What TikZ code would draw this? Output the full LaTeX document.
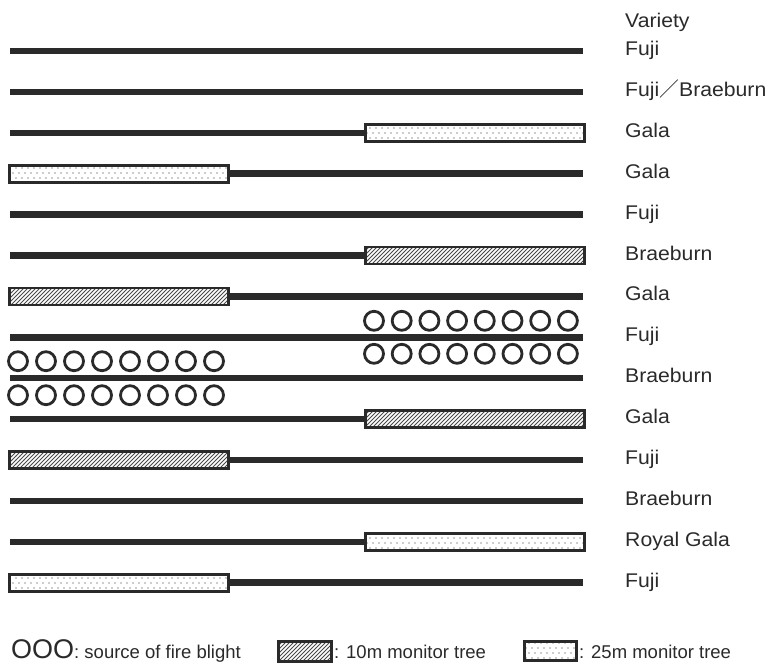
\documentclass[tikz,border=0pt]{standalone}
\usepackage{fontspec}
\setmainfont{Liberation Sans}
\newfontfamily\labelfont{Liberation Sans}[FakeStretch=1.07]
\newfontfamily\cjk{Noto Sans CJK SC}
\usetikzlibrary{patterns}
\definecolor{ink}{HTML}{2A2A2A}
\pgfdeclarepatternformonly{mon hatch}{\pgfqpoint{-1pt}{-1pt}}{\pgfqpoint{5pt}{5pt}}{\pgfqpoint{4pt}{4pt}}{%
  \pgfsetlinewidth{0.75pt}\pgfpathmoveto{\pgfqpoint{0pt}{0pt}}\pgfpathlineto{\pgfqpoint{4.1pt}{4.1pt}}\pgfusepath{stroke}}
\pgfdeclarepatternformonly{mon dots}{\pgfqpoint{-1pt}{-1pt}}{\pgfqpoint{7pt}{11pt}}{\pgfqpoint{6pt}{10pt}}{%
  \pgfpathcircle{\pgfqpoint{1pt}{1pt}}{0.7pt}\pgfpathcircle{\pgfqpoint{4pt}{6pt}}{0.7pt}\pgfusepath{fill}}
\tikzstyle{treeline}=[draw=ink, line width=6.5pt]
\tikzstyle{mon10}=[draw=ink, line width=2.8pt, preaction={fill=white}, pattern=mon hatch, pattern color=ink!85]
\tikzstyle{mon25}=[draw=ink, line width=2.8pt, preaction={fill=white}, pattern=mon dots, pattern color=ink]
\tikzstyle{blight}=[draw=ink, line width=2.8pt]
\tikzstyle{variety}=[anchor=base west, inner sep=0pt, text=ink, font=\labelfont\fontsize{19.8}{19.8}\selectfont]
\tikzstyle{legend}=[anchor=base west, inner sep=0pt, text=ink, font=\fontsize{18.5}{18.5}\selectfont]

\begin{document}
\begin{tikzpicture}[x=1pt, y=-1pt]
\useasboundingbox (0,0) rectangle (770,664);
% tree rows
\draw[treeline] (10,51.0) -- (583,51.0);
\draw[treeline] (10,91.9) -- (583,91.9);
\draw[treeline] (10,132.8) -- (583,132.8);
\draw[treeline] (10,173.7) -- (583,173.7);
\draw[treeline] (10,214.6) -- (583,214.6);
\draw[treeline] (10,255.5) -- (583,255.5);
\draw[treeline] (10,296.4) -- (583,296.4);
\draw[treeline] (10,337.3) -- (583,337.3);
\draw[treeline] (10,378.2) -- (583,378.2);
\draw[treeline] (10,419.1) -- (583,419.1);
\draw[treeline] (10,460.0) -- (583,460.0);
\draw[treeline] (10,500.9) -- (583,500.9);
\draw[treeline] (10,541.8) -- (583,541.8);
\draw[treeline] (10,582.7) -- (583,582.7);
% monitor trees
\draw[mon25] (365.5,124.3) rectangle (584.5,141.3);
\draw[mon25] (9.5,165.2) rectangle (228.5,182.2);
\draw[mon10] (365.5,247.0) rectangle (584.5,264.0);
\draw[mon10] (9.5,287.9) rectangle (228.5,304.9);
\draw[mon10] (365.5,410.6) rectangle (584.5,427.6);
\draw[mon10] (9.5,451.5) rectangle (228.5,468.5);
\draw[mon25] (365.5,533.3) rectangle (584.5,550.3);
\draw[mon25] (9.5,574.2) rectangle (228.5,591.2);
% sources of fire blight
\foreach \k in {0,...,7}{
  \draw[blight] (374+27.7*\k,320.8) circle (9.5);
  \draw[blight] (374+27.7*\k,353.8) circle (9.5);
  \draw[blight] (18+28*\k,361.2) circle (9.5);
  \draw[blight] (18+28*\k,395.2) circle (9.5);
}
% varieties
\node[variety] (var) at (625,27) {Variety};
\node[variety] (r1) at (625,55.5) {Fuji};
\node[variety] (r2) at (625,96.4) {Fuji{\cjk ／}Braeburn};
\node[variety] (r3) at (625,137.3) {Gala};
\node[variety] (r4) at (625,178.2) {Gala};
\node[variety] (r5) at (625,219.1) {Fuji};
\node[variety] (r6) at (625,260.0) {Braeburn};
\node[variety] (r7) at (625,300.9) {Gala};
\node[variety] (r8) at (625,341.8) {Fuji};
\node[variety] (r9) at (625,382.7) {Braeburn};
\node[variety] (r10) at (625,423.6) {Gala};
\node[variety] (r11) at (625,464.5) {Fuji};
\node[variety] (r12) at (625,505.4) {Braeburn};
\node[variety] (r13) at (625,546.3) {Royal Gala};
\node[variety] (r14) at (625,587.2) {Fuji};
% legend
\node[legend] (src) at (11,658) {{\fontsize{27}{27}\selectfont OOO}: source of fire blight};
\draw[mon10, line width=3.2pt] (278.5,641.5) rectangle (331.5,661.5);
\node[legend] (ten) at (334,658) {: 10m monitor tree};
\draw[mon25, line width=3.2pt] (524.5,641.5) rectangle (576.5,660.5);
\node[legend] (twentyfive) at (579,658) {: 25m monitor tree};
\end{tikzpicture}
\end{document}
